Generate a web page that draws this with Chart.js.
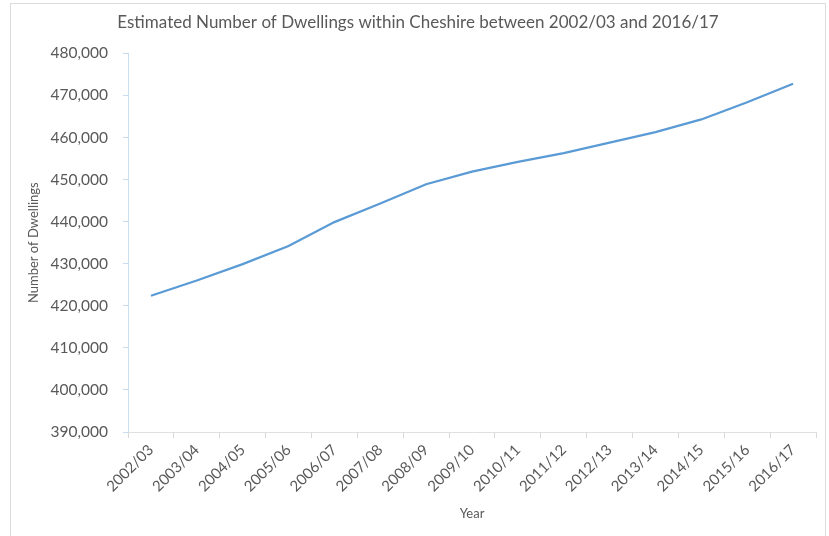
<!DOCTYPE html>
<html>
<head>
<meta charset="utf-8">
<script src="https://cdn.jsdelivr.net/npm/chart.js@4/dist/chart.umd.min.js"></script>
<style>
  html, body { margin: 0; padding: 0; background: #fff; }
  #wrap { position: relative; width: 829px; height: 536px; }
  #frame {
    position: absolute; left: 10px; top: 3px; width: 816px; height: 540px;
    border: 1px solid #dcdcdc; box-sizing: border-box;
  }
  canvas { position: absolute; left: 0; top: 0; }
</style>
</head>
<body>
<div id="wrap">
  <div id="frame"></div>
  <canvas id="chart" width="829" height="536"></canvas>
</div>
<script>
const years = [
  '2002/03', '2003/04', '2004/05', '2005/06', '2006/07', '2007/08', '2008/09', '2009/10',
  '2010/11', '2011/12', '2012/13', '2013/14', '2014/15', '2015/16', '2016/17'
];
const dwellings = [
  422400, 426000, 429900, 434200, 439900, 444300, 448900, 451900,
  454200, 456300, 458800, 461300, 464300, 468400, 472800
];
const yMin = 390000;
const yMax = 480000;
const yStep = 10000;

const textGrey = '#595959';
const fontFamily = 'Lato, "Open Sans", sans-serif';

const ctx = document.getElementById('chart').getContext('2d');
new Chart(ctx, {
  type: 'line',
  data: {
    labels: years,
    datasets: [{
      label: 'Number of Dwellings',
      data: dwellings,
      borderColor: '#5b9bd5',
      borderWidth: 2.25,
      pointRadius: 0,
      tension: 0,
      fill: false
    }]
  },
  options: {
    responsive: false,
    animation: false,
    layout: { padding: { left: 20, right: 13, top: 7, bottom: 0 } },
    plugins: {
      legend: { display: false },
      tooltip: { enabled: false },
      title: {
        display: true,
        text: 'Estimated Number of Dwellings within Cheshire between 2002/03 and 2016/17',
        color: textGrey,
        font: { family: fontFamily, size: 17, weight: 'normal' },
        padding: { top: 5, bottom: 21 }
      }
    },
    scales: {
      x: {
        offset: true,
        grid: {
          offset: true,
          drawOnChartArea: false,
          tickLength: 6,
          color: '#d9d9d9'
        },
        border: { color: '#e0e0e0', width: 1 },
        ticks: {
          color: textGrey,
          font: { family: fontFamily, size: 15 },
          minRotation: 45,
          maxRotation: 45,
          autoSkip: false,
          padding: 3
        },
        title: {
          display: true,
          text: 'Year',
          color: textGrey,
          font: { family: fontFamily, size: 13 },
          padding: { top: 0, bottom: 14 }
        },
        afterFit: scale => { scale.height = 104; }
      },
      y: {
        min: yMin,
        max: yMax,
        grid: {
          drawOnChartArea: false,
          tickLength: 5,
          color: '#c9dcf0'
        },
        border: { color: '#c9dcf0', width: 1 },
        ticks: {
          stepSize: yStep,
          color: textGrey,
          font: { family: fontFamily, size: 15.5 },
          padding: 15,
          callback: v => v.toLocaleString('en-GB')
        },
        title: {
          display: true,
          text: 'Number of Dwellings',
          color: textGrey,
          font: { family: fontFamily, size: 13 },
          padding: { top: 6, bottom: 0 }
        },
        afterFit: scale => { scale.width = 108; }
      }
    }
  }
});
</script>
</body>
</html>
